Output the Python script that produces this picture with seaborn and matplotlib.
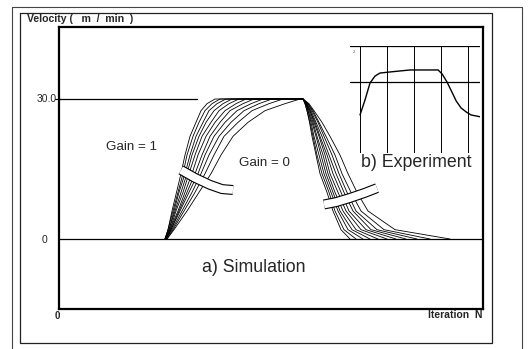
import matplotlib
matplotlib.use("Agg")
import matplotlib.pyplot as plt
import matplotlib.patheffects as pe
from matplotlib.lines import Line2D
import pandas as pd
import seaborn as sns

# ---- simulated velocity profiles (iteration N, velocity m/min) ----
gains = [1.0, 0.9, 0.8, 0.7, 0.6, 0.5, 0.4, 0.3, 0.2, 0.1, 0.0]

rise_levels = [0, 2, 6, 10, 14, 18, 22, 25, 27.5, 29, 30]
rise_iter = [
    [106, 109, 113, 117.5, 122, 126, 131, 137, 142, 148, 156],
    [106, 109, 114, 119, 124, 128, 134, 140, 146, 153, 161],
    [106, 110, 115, 120, 126, 131, 137, 144, 150, 158, 167],
    [106, 110, 116, 122, 128, 133, 140, 147, 155, 164, 173],
    [107, 111, 117, 124, 130, 136, 143, 152, 160, 170, 180],
    [107, 111, 119, 126, 133, 139, 147, 156, 166, 177, 187],
    [107, 112, 120, 128, 136, 143, 151, 161, 171, 184, 195],
    [107, 112, 121, 130, 139, 146, 155, 166, 178, 192, 204],
    [107, 113, 123, 133, 142, 150, 160, 172, 185, 200, 213],
    [108, 114, 125, 136, 146, 155, 165, 179, 193, 210, 224],
    [108, 115, 128, 140, 152, 162, 174, 189, 206, 226, 241],
]

fall_levels = [30, 29, 27.5, 25, 22, 18, 14, 10, 6, 2, 0]
fall_iter = [
    [244, 246, 248, 250.5, 253, 257, 261, 268, 274, 282, 291],
    [244, 246, 248, 251, 254, 258, 263, 270, 276, 285, 297],
    [244, 247, 249, 252, 255, 260, 265, 272, 279, 289, 304],
    [244, 247, 249, 253, 257, 262, 267, 274, 281, 293, 311],
    [244, 247, 250, 254, 258, 264, 269, 276, 284, 297, 319],
    [244, 247, 251, 255, 260, 266, 271, 279, 287, 302, 328],
    [244, 248, 251, 256, 261, 268, 274, 282, 290, 307, 337],
    [244, 248, 252, 257, 263, 270, 277, 285, 294, 312, 347],
    [244, 249, 253, 259, 265, 273, 280, 288, 297, 318, 358],
    [244, 249, 254, 260, 267, 276, 283, 292, 302, 325, 371],
    [244, 250, 255, 263, 271, 281, 289, 298, 309, 336, 391],
]

baseline_iter = [0, 424]
baseline_vel = [0, 0]
ref_iter = [0, 138]
ref_vel = [30, 30]

# brace-like bands crossing the rising and falling families
band_rise_iter = [122, 136, 151, 163, 174]
band_rise_vel = [14.8, 13.1, 11.6, 10.7, 10.5]
band_fall_iter = [265, 277, 291, 306, 318]
band_fall_vel = [7.4, 7.9, 8.8, 9.9, 10.9]

# ---- measured response (inset) ----
exp_t = [1.0, 1.185, 1.37, 1.556, 1.74, 2.11, 2.48, 2.85, 3.22, 3.59, 3.89,
         4.04, 4.22, 4.4, 4.56, 4.74, 4.93, 5.11, 5.3, 5.48]
exp_v = [0.533, 0.743, 0.981, 1.079, 1.121, 1.136, 1.150, 1.164, 1.164, 1.164,
         1.164, 1.107, 0.995, 0.855, 0.729, 0.631, 0.575, 0.533, 0.519, 0.505]
exp_vgrid = [1, 2, 3, 4, 5]
exp_hgrid = [1.0, 1.5]

# ---- build long-form table ----
rows = []
for g, rx, fxs in zip(gains, rise_iter, fall_iter):
    xs = rx + fxs
    vs = rise_levels + fall_levels
    for i, (x, v) in enumerate(zip(xs, vs)):
        rows.append({"gain": g, "order": i, "iteration": x, "velocity": v})
df = pd.DataFrame(rows)

sns.set_theme(style="white")
plt.rcParams["font.family"] = ["Liberation Sans", "DejaVu Sans"]

W, H = 528, 349
fig = plt.figure(figsize=(W / 100, H / 100), dpi=100)
fig.patch.set_facecolor("white")


def fx(px):
    return px / W


def fy(py):
    return 1 - py / H


# main axes
ax = fig.add_axes([fx(59), fy(309), fx(483) - fx(59), fy(27) - fy(309)])
ax.set_facecolor("white")
sns.lineplot(x=baseline_iter, y=baseline_vel, color="black", lw=0.9, ax=ax)
sns.lineplot(x=ref_iter, y=ref_vel, color="black", lw=0.9, ax=ax)
sns.lineplot(data=df, x="iteration", y="velocity", units="gain",
             estimator=None, sort=False, color="black", lw=0.6, ax=ax)

for bx, bv in [(band_rise_iter, band_rise_vel), (band_fall_iter, band_fall_vel)]:
    ax.plot(bx, bv, color="white", lw=5.6, solid_capstyle="butt", zorder=5,
            path_effects=[pe.Stroke(linewidth=7.2, foreground="black",
                                    capstyle="butt"), pe.Normal()])

ax.set_xlim(0, 424)
ax.set_ylim(-15, 45.43)
ax.set_xticks([])
ax.set_yticks([])
ax.set_xlabel("")
ax.set_ylabel("")
for s in ax.spines.values():
    s.set_visible(True)
    s.set_color("black")
    s.set_linewidth(1.6)

ax.text(73, 19.7, "Gain = 1", fontsize=9.6, ha="center", va="center")
ax.text(205, 16.3, "Gain = 0", fontsize=9.6, ha="center", va="center")
ax.text(195, -6.0, "a) Simulation", fontsize=12.8, ha="center", va="center")
ax.text(357, 16.3, "b) Experiment", fontsize=12.8, ha="center", va="center", zorder=6)

# inset axes with the measured curve
iax = fig.add_axes([fx(350), fy(153), fx(480) - fx(350), fy(46) - fy(153)])
iax.patch.set_alpha(0)
for xg in exp_vgrid:
    iax.axvline(xg, color="black", lw=0.7)
for yg in exp_hgrid:
    iax.axhline(yg, color="black", lw=0.9)
sns.lineplot(x=exp_t, y=exp_v, sort=False, color="black", lw=1.0, ax=iax)
iax.set_xlim(0.63, 5.44)
iax.set_ylim(0, 1.5)
iax.set_xticks([])
iax.set_yticks([])
for s in iax.spines.values():
    s.set_visible(False)
iax.text(0.72, 1.45, "2", fontsize=3, color="#555555", ha="left", va="top")

# axis annotations
fig.text(fx(27), fy(19.5), "Velocity (   m  /  min  )", fontsize=7.6, fontweight="bold",
         ha="left", va="center")
fig.text(fx(57), fy(99), "30.0", fontsize=7.5, ha="right", va="center")
fig.text(fx(45), fy(240), "0", fontsize=7.5, ha="center", va="center")
fig.text(fx(57), fy(316), "0", fontsize=7, fontweight="bold", ha="center", va="center")
fig.text(fx(482), fy(315), "Iteration  N", fontsize=7.5, fontweight="bold",
         ha="right", va="center")
fig.add_artist(Line2D([fx(55), fx(62)], [fy(99), fy(99)], color="black", lw=0.8))

# frames around the figure
def frame(x0, y0, x1, y1, lw, color):
    fig.add_artist(Line2D([fx(x0), fx(x1), fx(x1), fx(x0), fx(x0)],
                          [fy(y0), fy(y0), fy(y1), fy(y1), fy(y0)],
                          color=color, lw=lw))

frame(20, 13, 492, 343, 0.9, "#222222")
frame(12, 7, 522, 352, 0.8, "#444444")

fig.savefig("out.png", dpi=100, facecolor="white")
